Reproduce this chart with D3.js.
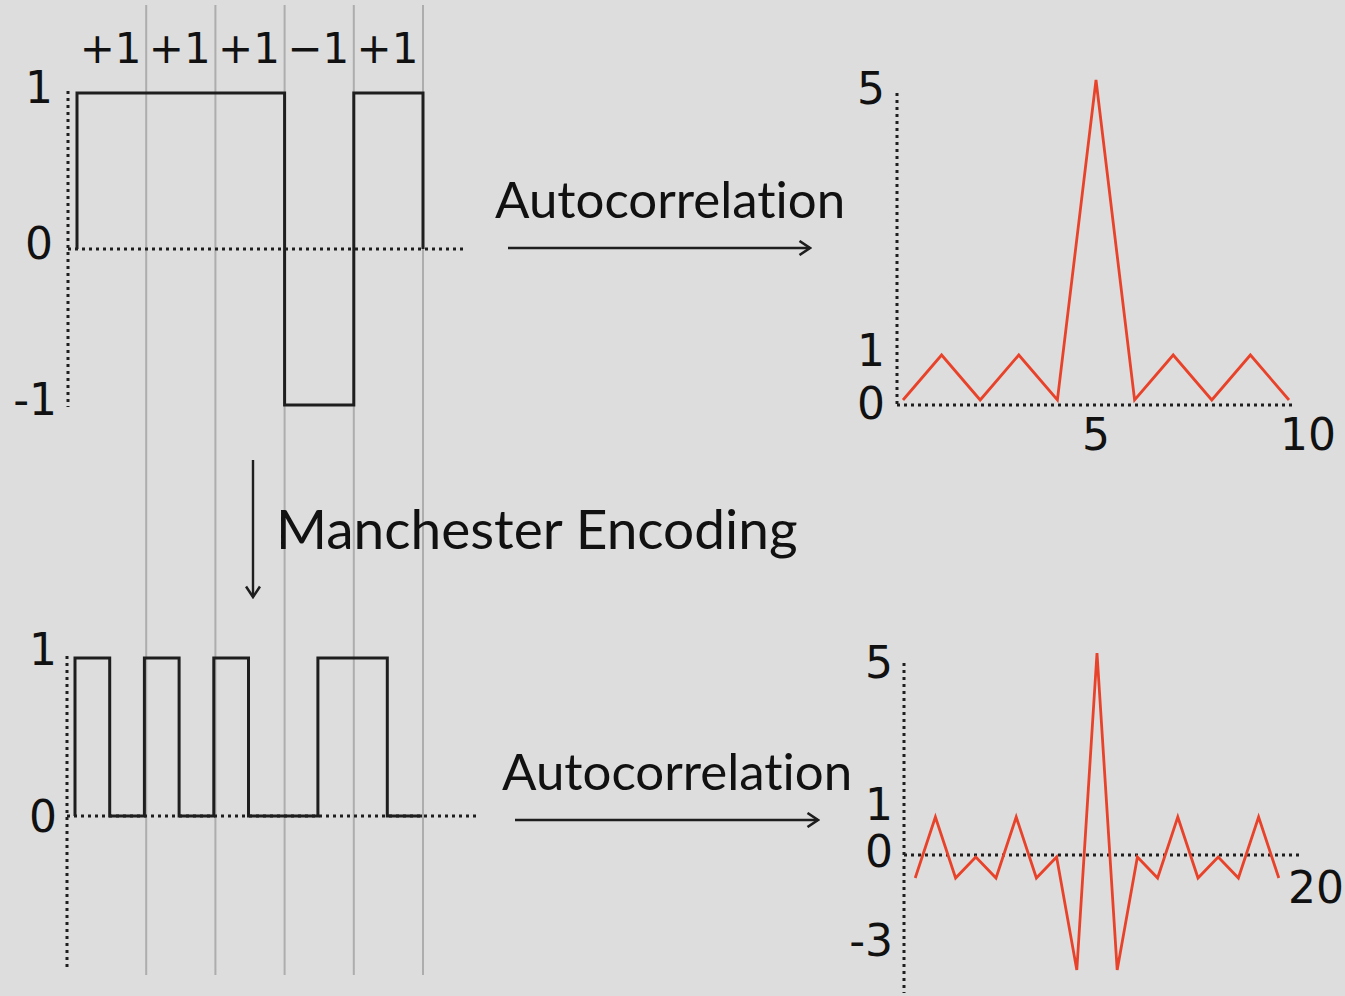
<!DOCTYPE html>
<html>
<head>
<meta charset="utf-8">
<script src="https://cdn.jsdelivr.net/npm/d3@7"></script>
<style>
  body { margin: 0; background: #dddddd; }
  .num { font-family: "DejaVu Sans", Verdana, sans-serif; font-size: 44px; fill: #111; }
  .word { font-family: Lato, "Noto Sans", sans-serif; fill: #111; font-variant-ligatures: none; }
</style>
</head>
<body>
<div id="chart"></div>
<script>
// bit sequence and its labels
const bits = [1, 1, 1, -1, 1];
const bitLabels = ["+1", "+1", "+1", "\u22121", "+1"];
// manchester halves (+1 -> high,low ; -1 -> low,high)
const manchester = [1, 0, 1, 0, 1, 0, 0, 1, 1, 0];
// autocorrelation values
const acTop = [0, 1, 0, 1, 0, 5, 0, 1, 0, 1, 0];
const acBottom = [-1, 1, -1, 0, -1, 1, -1, 0, -3, 5, -3, 0, -1, 1, -1, 0, -1, 1, -1];
// tick labels
const waveTopTicks = [1, 0, -1];
const waveBottomTicks = [1, 0];
const acTopYTicks = [5, 1, 0];
const acTopXTicks = [5, 10];
const acBottomYTicks = [5, 1, 0, -3];
const acBottomXTicks = [20];

const width = 1345, height = 996;
const dark = "#1e1e1e", red = "#e8432a";

var svg = d3.select("#chart").append("svg")
    .attr("width", width)
    .attr("height", height)
    .style("background", "#dddddd");

// arrow head marker (open chevron)
svg.append("defs").append("marker")
    .attr("id", "head")
    .attr("viewBox", "0 0 14 16")
    .attr("refX", 12.5).attr("refY", 8)
    .attr("markerWidth", 14).attr("markerHeight", 16)
    .attr("markerUnits", "userSpaceOnUse")
    .attr("orient", "auto")
  .append("path")
    .attr("d", "M2,1 L12.5,8 L2,15")
    .attr("fill", "none")
    .attr("stroke", dark)
    .attr("stroke-width", 2.6);

function dotted(g, x1, y1, x2, y2) {
  g.append("line")
    .attr("x1", x1).attr("y1", y1).attr("x2", x2).attr("y2", y2)
    .attr("stroke", dark)
    .attr("stroke-width", 3)
    .attr("stroke-dasharray", "3,4");
}

/* TOP LEFT: bipolar wave */
var xBit = d3.scaleLinear().domain([0, 5]).range([77, 423]);
var yBit = d3.scaleLinear().domain([-1, 1]).range([405, 93]);

// gray bit boundaries running through both waves
svg.selectAll(".bitline")
  .data(d3.range(1, bits.length + 1))
  .enter().append("line")
    .attr("class", "bitline")
    .attr("x1", d => xBit(d)).attr("x2", d => xBit(d))
    .attr("y1", 5).attr("y2", 975)
    .attr("stroke", "#adadad")
    .attr("stroke-width", 2);

var gTop = svg.append("g");
dotted(gTop, 68, yBit(1) - 2, 68, yBit(-1) + 2);
dotted(gTop, 68, yBit(0), 465, yBit(0));

var wavePts = [[0, 0]].concat(bits.map((b, i) => [i, b]), [[bits.length, bits[bits.length - 1]], [bits.length, 0]]);
gTop.append("path")
    .datum(wavePts)
    .attr("fill", "none")
    .attr("stroke", dark)
    .attr("stroke-width", 3)
    .attr("d", d3.line().x(d => xBit(d[0])).y(d => yBit(d[1])).curve(d3.curveStepAfter));

gTop.selectAll(".bitlabel")
  .data(bitLabels)
  .enter().append("text")
    .attr("class", "num")
    .attr("x", (d, i) => xBit(i + 0.5) - 1)
    .attr("y", 63)
    .attr("text-anchor", "middle")
    .style("font-size", "42px")
    .text(d => d);

gTop.selectAll(".ytick")
  .data(waveTopTicks)
  .enter().append("text")
    .attr("class", "num")
    .attr("x", d => d < 0 ? 57 : 53)
    .attr("y", d => yBit(d) + 10)
    .attr("text-anchor", "end")
    .text(d => d);

/* BOTTOM LEFT: manchester wave */
var xHalf = d3.scaleLinear().domain([0, 10]).range([75, 422]);
var yHalf = d3.scaleLinear().domain([0, 1]).range([816, 658]);

var gBot = svg.append("g");
dotted(gBot, 67, yHalf(1) - 2, 67, 970);
dotted(gBot, 67, yHalf(0), 480, yHalf(0));

var manPts = [[0, 0]].concat(manchester.map((b, i) => [i, b]), [[manchester.length, manchester[manchester.length - 1]]]);
gBot.append("path")
    .datum(manPts)
    .attr("fill", "none")
    .attr("stroke", dark)
    .attr("stroke-width", 3)
    .attr("d", d3.line().x(d => xHalf(d[0])).y(d => yHalf(d[1])).curve(d3.curveStepAfter));

gBot.selectAll(".ytick")
  .data(waveBottomTicks)
  .enter().append("text")
    .attr("class", "num")
    .attr("x", 57)
    .attr("y", d => d === 1 ? yHalf(d) + 7 : yHalf(d) + 16)
    .attr("text-anchor", "end")
    .text(d => d);

/* TOP RIGHT: autocorrelation of the bits */
var xAcT = d3.scaleLinear().domain([0, 10]).range([903, 1289]);
var yAcT = d3.scaleLinear().domain([0, 1, 5]).range([400, 355, 80]);
var yAcTLabel = d3.scaleLinear().domain([0, 1, 5]).range([403, 350, 88]);

var gAcT = svg.append("g");
dotted(gAcT, 897, 93, 897, 405);
dotted(gAcT, 897, 405, 1293, 405);

gAcT.append("path")
    .datum(acTop)
    .attr("fill", "none")
    .attr("stroke", red)
    .attr("stroke-width", 2.8)
    .attr("d", d3.line().x((d, i) => xAcT(i)).y(d => yAcT(d)));

gAcT.selectAll(".ytick")
  .data(acTopYTicks)
  .enter().append("text")
    .attr("class", "num")
    .attr("x", 885)
    .attr("y", d => yAcTLabel(d) + 16)
    .attr("text-anchor", "end")
    .text(d => d);

gAcT.selectAll(".xtick")
  .data(acTopXTicks)
  .enter().append("text")
    .attr("class", "num")
    .attr("x", (d, i) => i === acTopXTicks.length - 1 ? xAcT(d) - 9 : xAcT(d))
    .attr("y", 450)
    .attr("text-anchor", (d, i) => i === acTopXTicks.length - 1 ? "start" : "middle")
    .text(d => d);

/* BOTTOM RIGHT: autocorrelation of the manchester code */
var xAcB = d3.scaleLinear().domain([0, 20]).range([895, 1299]);
var yAcB = d3.scaleLinear().domain([-3, -1, 0, 1, 5]).range([970, 878, 857, 817, 653]);
var yAcBLabel = d3.scaleLinear().domain([-3, 0, 1, 5]).range([940, 851, 804, 662]);

var gAcB = svg.append("g");
dotted(gAcB, 904, 663, 904, 993);
dotted(gAcB, 904, 855, 1300, 855);

gAcB.append("path")
    .datum(acBottom)
    .attr("fill", "none")
    .attr("stroke", red)
    .attr("stroke-width", 2.8)
    .attr("d", d3.line().x((d, i) => xAcB(i + 1)).y(d => yAcB(d)));

gAcB.selectAll(".ytick")
  .data(acBottomYTicks)
  .enter().append("text")
    .attr("class", "num")
    .attr("x", 893)
    .attr("y", d => yAcBLabel(d) + 16)
    .attr("text-anchor", "end")
    .text(d => d);

gAcB.selectAll(".xtick")
  .data(acBottomXTicks)
  .enter().append("text")
    .attr("class", "num")
    .attr("x", d => xAcB(d) - 11)
    .attr("y", 903)
    .attr("text-anchor", "start")
    .text(d => d);

/* ARROWS AND CAPTIONS */
svg.append("text")
    .attr("class", "word")
    .attr("x", 495).attr("y", 218)
    .style("font-size", "51px")
    .text("Autocorrelation");
svg.append("line")
    .attr("x1", 508).attr("y1", 248).attr("x2", 810).attr("y2", 248)
    .attr("stroke", dark).attr("stroke-width", 2.4)
    .attr("marker-end", "url(#head)");

svg.append("text")
    .attr("class", "word")
    .attr("x", 502).attr("y", 790)
    .style("font-size", "51px")
    .text("Autocorrelation");
svg.append("line")
    .attr("x1", 515).attr("y1", 820).attr("x2", 818).attr("y2", 820)
    .attr("stroke", dark).attr("stroke-width", 2.4)
    .attr("marker-end", "url(#head)");

svg.append("line")
    .attr("x1", 253).attr("y1", 460).attr("x2", 253).attr("y2", 597)
    .attr("stroke", dark).attr("stroke-width", 2.4)
    .attr("marker-end", "url(#head)");
svg.append("text")
    .attr("class", "word")
    .attr("x", 276).attr("y", 549)
    .style("font-size", "55px")
    .text("Manchester Encoding");
</script>
</body>
</html>
